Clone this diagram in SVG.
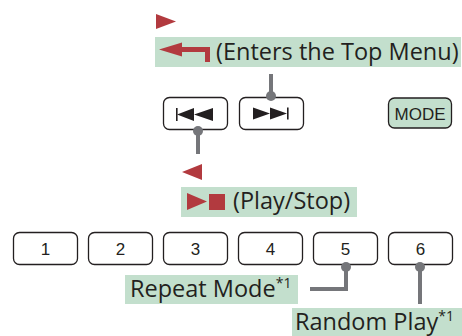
<svg xmlns="http://www.w3.org/2000/svg" width="462" height="336" viewBox="0 0 462 336">
<style>
.lbl{fill:#c3dfcd}
.red{fill:#b23a3f}
.btn{fill:#fff;stroke:#231f20;stroke-width:1.3}
.mode{fill:#c3dfcd;stroke:#231f20;stroke-width:1.3}
.t{font-family:"Open Sans","Noto Sans",sans-serif;font-size:23.5px;fill:#231f20}
.d{font-family:"Liberation Sans",Arial,sans-serif;font-size:17px;fill:#231f20;text-anchor:middle}
.sym{fill:#231f20}
.ln{fill:none;stroke:#75767a;stroke-width:4}
.dot{fill:#75767a}
</style>
<rect width="462" height="336" fill="#fff"/>
<g id="enter-label">
<polygon class="red" points="156,14 176,21.5 156,29"/>
<rect class="lbl" x="155" y="37" width="306" height="30"/>
<polygon class="red" points="159,49.5 182,42.5 182,47 210,47 210,62 205,62 205,52 182,52 182,56.5"/>
<text class="t" x="216" y="60">(Enters the Top Menu)</text>
</g>
<g id="btn-prev">
<rect class="btn" x="163.5" y="97.5" width="64" height="32" rx="6"/>
<rect class="sym" x="176" y="108" width="1.6" height="13"/>
<polygon class="sym" points="177,114.5 194,108 194,121"/>
<polygon class="sym" points="194,114.5 213,108 213,121"/>
</g>
<g id="btn-next">
<rect class="btn" x="239.5" y="97.5" width="64" height="32" rx="6"/>
<polygon class="sym" points="253,107.5 270,113.5 253,119.5"/>
<polygon class="sym" points="270,107.5 287,113.5 270,119.5"/>
<rect class="sym" x="287" y="107.5" width="1.6" height="12"/>
</g>
<g id="btn-mode">
<rect class="mode" x="388.5" y="98" width="63" height="30" rx="6"/>
<text class="d" x="420" y="119.5">MODE</text>
</g>
<g id="play-label">
<polygon class="red" points="202,164 182,172 202,180"/>
<rect class="lbl" x="181" y="187" width="176" height="30"/>
<polygon class="red" points="187,193 207,201.5 187,210"/>
<rect class="red" x="209" y="194" width="16" height="16"/>
<text class="t" x="233" y="209">(Play/Stop)</text>
</g>
<g id="btn-1"><rect class="btn" x="13.5" y="232.5" width="64" height="32" rx="6"/><text class="d" x="45.5" y="254.5">1</text></g>
<g id="btn-2"><rect class="btn" x="88.5" y="232.5" width="64" height="32" rx="6"/><text class="d" x="120.5" y="254.5">2</text></g>
<g id="btn-3"><rect class="btn" x="163.5" y="232.5" width="64" height="32" rx="6"/><text class="d" x="195.5" y="254.5">3</text></g>
<g id="btn-4"><rect class="btn" x="238.5" y="232.5" width="64" height="32" rx="6"/><text class="d" x="270.5" y="254.5">4</text></g>
<g id="btn-5"><rect class="btn" x="313.5" y="232.5" width="64" height="32" rx="6"/><text class="d" x="345.5" y="254.5">5</text></g>
<g id="btn-6"><rect class="btn" x="388.5" y="232.5" width="64" height="32" rx="6"/><text class="d" x="420.5" y="254.5">6</text></g>
<g id="repeat-label">
<rect class="lbl" x="125" y="275" width="173" height="29"/>
<text class="t" x="130" y="297">Repeat Mode<tspan font-size="14" dy="-9">*1</tspan></text>
</g>
<g id="random-label">
<rect class="lbl" x="292" y="308" width="170" height="28"/>
<text class="t" x="295" y="330">Random Play<tspan font-size="14" dy="-9">*1</tspan></text>
</g>
<g id="connectors">
<path class="ln" d="M271,74 V96"/>
<circle class="dot" cx="271" cy="96" r="5"/>
<path class="ln" d="M198,131 V154"/>
<circle class="dot" cx="198" cy="131" r="5"/>
<path class="ln" d="M346,267 V289 H310"/>
<circle class="dot" cx="346" cy="267" r="5"/>
<path class="ln" d="M420,267 V304"/>
<circle class="dot" cx="420" cy="267" r="5"/>
</g>
</svg>
